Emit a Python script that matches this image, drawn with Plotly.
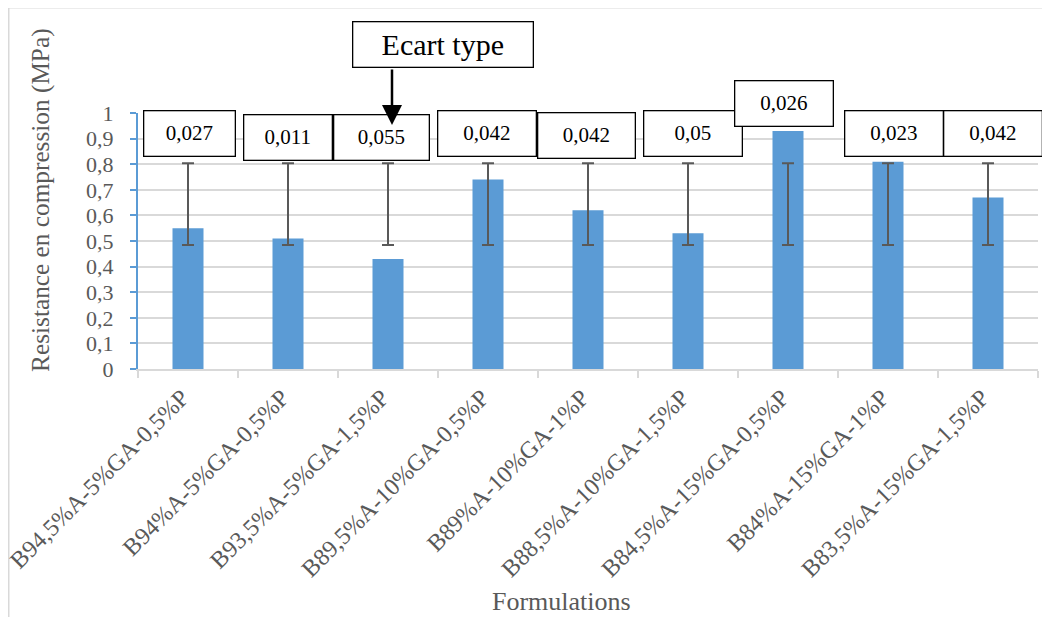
import plotly.graph_objects as go

# ---- data ----
categories = [
    "B94,5%A-5%GA-0,5%P",
    "B94%A-5%GA-0,5%P",
    "B93,5%A-5%GA-1,5%P",
    "B89,5%A-10%GA-0,5%P",
    "B89%A-10%GA-1%P",
    "B88,5%A-10%GA-1,5%P",
    "B84,5%A-15%GA-0,5%P",
    "B84%A-15%GA-1%P",
    "B83,5%A-15%GA-1,5%P",
]
resistance = [0.55, 0.51, 0.43, 0.74, 0.62, 0.53, 0.93, 0.81, 0.67]
err_low = [0.484, 0.484, 0.484, 0.484, 0.484, 0.484, 0.484, 0.484, 0.484]
err_high = [0.804, 0.804, 0.804, 0.804, 0.804, 0.804, 0.804, 0.804, 0.804]
ecart_type = ["0,027", "0,011", "0,055", "0,042", "0,042", "0,05", "0,026", "0,023", "0,042"]
y_ticks = [0, 0.1, 0.2, 0.3, 0.4, 0.5, 0.6, 0.7, 0.8, 0.9, 1]

# ---- layout-only positions for the label boxes (category offset, y, width) ----
box_dx = [0.01, 0.0, -0.07, -0.015, -0.015, 0.05, -0.045, 0.055, 0.045]
box_y = [0.918, 0.904, 0.906, 0.920, 0.911, 0.920, 1.039, 0.918, 0.918]
box_w = [90, 87, 94, 97, 96, 97, 97, 97, 97]

BLUE = "#5B9BD5"
GRID = "#D9D9D9"
TXT = "#595959"
FONT = "Liberation Serif"

mid = [(lo + hi) / 2 for lo, hi in zip(err_low, err_high)]
plus = [hi - m for hi, m in zip(err_high, mid)]
minus = [m - lo for lo, m in zip(err_low, mid)]

fig = go.Figure()
fig.add_trace(go.Bar(
    x=categories, y=resistance, width=0.31,
    marker=dict(color=BLUE, line=dict(width=0)),
    hoverinfo="skip", showlegend=False,
))
fig.add_trace(go.Scatter(
    x=categories, y=mid, mode="markers",
    marker=dict(size=1, opacity=0),
    error_y=dict(type="data", symmetric=False, array=plus, arrayminus=minus,
                 color=TXT, thickness=2, width=6),
    hoverinfo="skip", showlegend=False,
))

annotations = []
for i, t in enumerate(ecart_type):
    annotations.append(dict(
        x=i + box_dx[i], y=box_y[i], xref="x", yref="paper", text=t,
        showarrow=False, font=dict(family=FONT, size=21, color="black"),
        bgcolor="white", bordercolor="black", borderwidth=1.3, borderpad=0,
        width=box_w[i], height=44, xanchor="center", yanchor="middle",
    ))

# "Ecart type" callout box
annotations.append(dict(
    x=2.55, y=1.266, xref="x", yref="paper", text="Ecart type",
    showarrow=False, font=dict(family=FONT, size=30, color="black"),
    bgcolor="white", bordercolor="black", borderwidth=1.3, borderpad=0,
    width=179, height=44, xanchor="center", yanchor="middle",
))
# arrow
annotations.append(dict(
    x=2.04, y=0.953, xref="x", yref="paper", text="",
    showarrow=True, ax=0, ay=-57, arrowhead=2, arrowsize=1.6,
    arrowwidth=2.5, arrowcolor="black",
))
# axis titles
annotations.append(dict(
    x=-0.109, y=0.66, xref="paper", yref="paper",
    text="Resistance en compression (MPa)", textangle=-90, showarrow=False,
    font=dict(family=FONT, size=25.3, color=TXT), xanchor="center", yanchor="middle",
))
annotations.append(dict(
    x=0.47, y=-0.91, xref="paper", yref="paper", text="Formulations",
    showarrow=False, font=dict(family=FONT, size=26, color=TXT),
    xanchor="center", yanchor="middle",
))

# page body has an 8px margin; the figure is laid out to compensate
fig.update_layout(
    width=1050, height=617,
    margin=dict(l=130, r=20, t=105, b=256, autoexpand=False),
    paper_bgcolor="white", plot_bgcolor="white",
    separators=", ",
    font=dict(family=FONT, color=TXT),
    annotations=annotations,
    shapes=[dict(
        type="rect", xref="paper", yref="paper",
        x0=(8.5 - 138) / 900, x1=(1065 - 138) / 900,
        y0=(369 - 640) / 256, y1=(369 - 7.5) / 256,
        line=dict(color=GRID, width=2), fillcolor="rgba(0,0,0,0)", layer="below",
    )],
)
fig.update_xaxes(
    type="category", showline=True, linecolor=GRID, linewidth=2,
    ticks="outside", tickson="boundaries", ticklen=7, tickcolor=GRID, tickwidth=2,
    tickangle=-45, tickfont=dict(family=FONT, size=24, color=TXT),
    ticklabelshift=-6, ticklabelstandoff=3, automargin=False,
    showgrid=False, range=[-0.5, 8.5],
)
fig.update_yaxes(
    range=[0, 1], tickvals=y_ticks, showline=True, linecolor=BLUE, linewidth=2,
    ticks="outside", ticklen=6, tickcolor=BLUE, tickwidth=2,
    tickfont=dict(family=FONT, size=22, color=TXT), ticklabelstandoff=12,
    automargin=False,
    showgrid=True, gridcolor=GRID, gridwidth=2, zeroline=False,
)

fig.write_html("out.html")
